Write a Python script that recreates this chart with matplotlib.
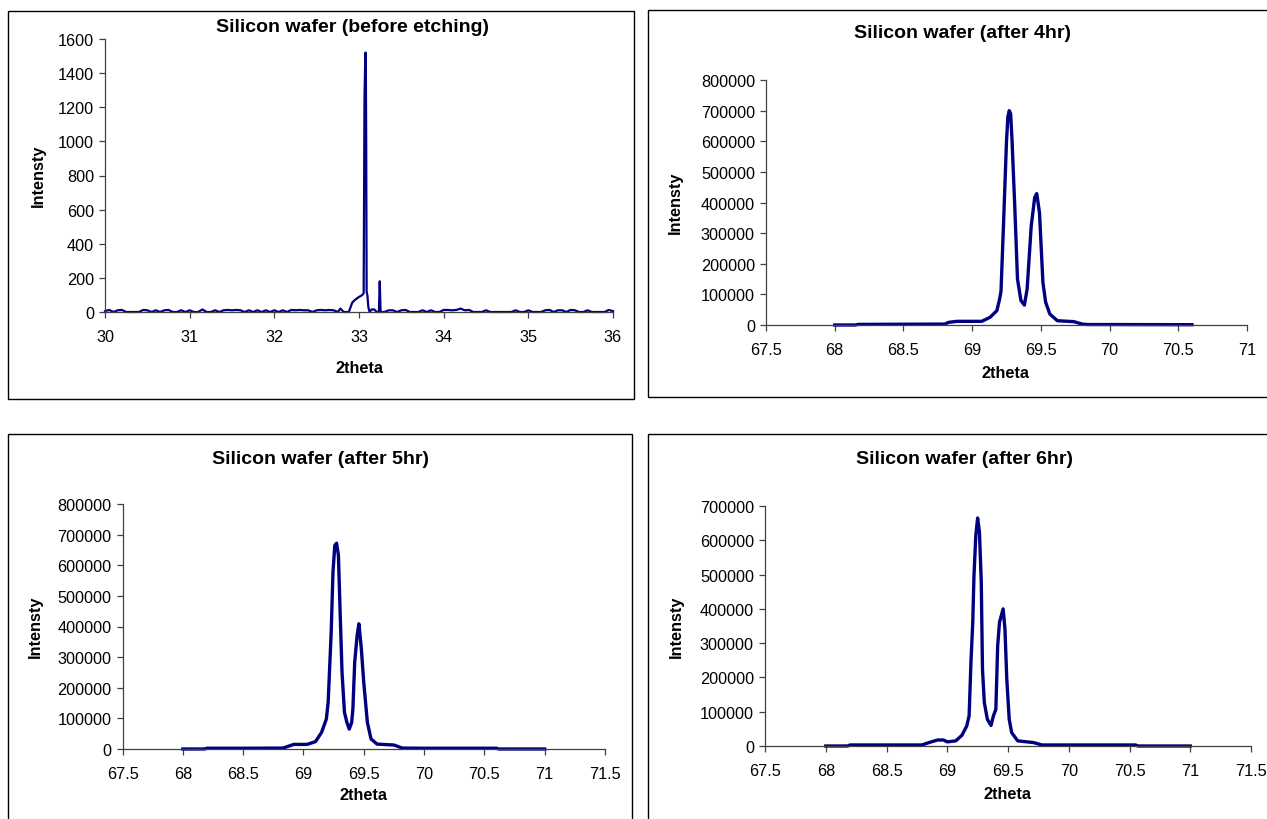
import numpy as np
import matplotlib
matplotlib.use("Agg")
import matplotlib.pyplot as plt
from matplotlib.patches import Rectangle
from matplotlib.ticker import FuncFormatter, MultipleLocator

plt.rcParams['font.family'] = ['Liberation Sans', 'DejaVu Sans']

# --- data ---
# before etching: baseline noise + peak region (2theta, counts)
before_x = [30.00, 30.05, 30.10, 30.15, 30.20, 30.25, 30.30, 30.35, 30.40, 30.45,
            30.50, 30.55, 30.60, 30.65, 30.70, 30.75, 30.80, 30.85, 30.90, 30.95,
            31.00, 31.05, 31.10, 31.15, 31.20, 31.25, 31.30, 31.35, 31.40, 31.45,
            31.50, 31.55, 31.60, 31.65, 31.70, 31.75, 31.80, 31.85, 31.90, 31.95,
            32.00, 32.05, 32.10, 32.15, 32.20, 32.25, 32.30, 32.35, 32.40, 32.45,
            32.50, 32.55, 32.60, 32.65, 32.70, 32.75, 32.78, 32.82, 32.88, 32.92,
            32.95, 32.99, 33.04, 33.055, 33.065, 33.075, 33.08, 33.085, 33.09, 33.10,
            33.11, 33.125, 33.15, 33.18, 33.21, 33.235, 33.245, 33.255, 33.30, 33.35,
            33.40, 33.45, 33.50, 33.55, 33.60, 33.65, 33.70, 33.75, 33.80, 33.85,
            33.90, 33.95, 34.00, 34.05, 34.10, 34.15, 34.20, 34.25, 34.30, 34.35,
            34.40, 34.45, 34.50, 34.55, 34.60, 34.65, 34.70, 34.75, 34.80, 34.85,
            34.90, 34.95, 35.00, 35.05, 35.10, 35.15, 35.20, 35.25, 35.30, 35.35,
            35.40, 35.45, 35.50, 35.55, 35.60, 35.65, 35.70, 35.75, 35.80, 35.85,
            35.90, 35.95, 36.00]
before_y = [5, 12, 0, 10, 12, 0, 0, 0, 0, 12,
            10, 0, 10, 0, 10, 12, 0, 0, 10, 0,
            10, 0, 0, 15, 0, 0, 10, 0, 10, 12,
            10, 12, 10, 0, 10, 0, 10, 0, 10, 0,
            10, 0, 10, 0, 12, 10, 12, 10, 10, 0,
            10, 12, 10, 12, 10, 0, 20, 0, 0, 55,
            70, 85, 100, 110, 1250, 1520, 1520, 1000, 120, 95,
            30, 0, 15, 15, 0, 0, 180, 0, 0, 10,
            10, 0, 10, 12, 0, 0, 0, 10, 0, 10,
            0, 0, 12, 12, 10, 12, 20, 10, 12, 0,
            0, 0, 10, 0, 0, 0, 0, 0, 0, 10,
            0, 0, 10, 0, 0, 0, 10, 12, 0, 10,
            10, 0, 12, 10, 0, 0, 10, 0, 0, 0,
            0, 12, 5]

hr4_x = [68.00, 68.15, 68.17, 68.50, 68.80, 68.83, 68.89, 69.00, 69.07, 69.13,
         69.18, 69.20, 69.21, 69.23, 69.25, 69.26, 69.27, 69.28, 69.29, 69.31,
         69.33, 69.355, 69.38, 69.40, 69.43, 69.455, 69.47, 69.49, 69.515, 69.535,
         69.565, 69.62, 69.74, 69.80, 69.84, 70.00, 70.60]
hr4_y = [0, 0, 2000, 2500, 3000, 8700, 12000, 12000, 12000, 25000,
         47000, 85000, 110000, 350000, 600000, 680000, 700000, 690000, 606000, 389000,
         150000, 80000, 65000, 117000, 324000, 416000, 429000, 367000, 139000, 74000,
         36000, 14000, 11000, 3000, 1500, 1500, 1000]

hr5_x = [68.00, 68.18, 68.20, 68.50, 68.83, 68.92, 69.03, 69.10, 69.15, 69.19,
         69.205, 69.23, 69.245, 69.26, 69.275, 69.29, 69.305, 69.32, 69.34, 69.36,
         69.38, 69.40, 69.41, 69.425, 69.445, 69.46, 69.48, 69.50, 69.53, 69.56,
         69.61, 69.75, 69.82, 70.00, 70.60, 70.62, 71.00]
hr5_y = [0, 0, 2500, 2500, 3000, 15000, 15000, 24000, 54000, 98000,
         153000, 381000, 578000, 665000, 672000, 632000, 436000, 250000, 120000, 87000,
         65000, 87000, 131000, 283000, 371000, 409000, 327000, 218000, 87000, 33000,
         16000, 13000, 3000, 2500, 2500, 0, 0]

hr6_x = [68.00, 68.18, 68.20, 68.50, 68.79, 68.85, 68.92, 68.97, 69.00, 69.07,
         69.12, 69.16, 69.18, 69.195, 69.21, 69.22, 69.235, 69.25, 69.265, 69.28,
         69.29, 69.305, 69.33, 69.36, 69.38, 69.40, 69.415, 69.43, 69.46, 69.475,
         69.49, 69.51, 69.53, 69.58, 69.71, 69.78, 70.00, 70.55, 70.57, 71.00]
hr6_y = [0, 0, 3000, 3000, 3000, 10000, 17500, 17500, 12000, 15000,
         31000, 58000, 88000, 244000, 361000, 497000, 614000, 665000, 624000, 478000,
         224000, 127000, 78000, 60000, 88000, 107000, 292000, 361000, 400000, 341000,
         195000, 78000, 39000, 15000, 10000, 3000, 3000, 3000, 0, 0]

titles = ["Silicon wafer (before etching)", "Silicon wafer (after 4hr)",
          "Silicon wafer (after 5hr)", "Silicon wafer (after 6hr)"]

W, H = 1267, 820
NAVY = "#000080"


def rect(x0, y0, x1, y1):
    return [x0 / W, 1 - y1 / H, (x1 - x0) / W, (y1 - y0) / H]


def fmt(v, pos):
    return "%g" % v


def style_axes(ax, xlim, xstep, ylim, ystep):
    ax.set_xlim(*xlim)
    ax.set_ylim(*ylim)
    ax.xaxis.set_major_locator(MultipleLocator(xstep))
    ax.yaxis.set_major_locator(MultipleLocator(ystep))
    ax.xaxis.set_major_formatter(FuncFormatter(fmt))
    ax.yaxis.set_major_formatter(FuncFormatter(lambda v, p: "%d" % v))
    for s in ["top", "right"]:
        ax.spines[s].set_visible(False)
    for s in ["left", "bottom"]:
        ax.spines[s].set_color("#404040")
        ax.spines[s].set_linewidth(0.9)
    ax.tick_params(direction="out", length=4, width=0.9, color="#404040",
                   labelsize=11.7)
    ax.tick_params(axis="x", pad=8)
    ax.tick_params(axis="y", pad=4)
    ax.patch.set_alpha(0)


fig = plt.figure(figsize=(W / 100, H / 100), dpi=100)

# panel frames
for x0, y0, x1, y1 in [(8, 12, 634, 400), (648, 11, 1280, 398),
                       (8, 435, 632, 830), (648, 435, 1280, 830)]:
    fig.add_artist(Rectangle((x0 / W, 1 - y1 / H), (x1 - x0) / W, (y1 - y0) / H,
                             transform=fig.transFigure, fill=False,
                             edgecolor="black", linewidth=1.0))

panels = [
    (rect(105, 40, 613, 313), before_x, before_y, (30, 36), 1, (0, 1600), 200, 1.6),
    (rect(766, 81, 1247, 326), hr4_x, hr4_y, (67.5, 71), 0.5, (0, 800000), 100000, 2.4),
    (rect(122.5, 505, 605, 750), hr5_x, hr5_y, (67.5, 71.5), 0.5, (0, 800000), 100000, 2.4),
    (rect(765, 507, 1251, 747), hr6_x, hr6_y, (67.5, 71.5), 0.5, (0, 700000), 100000, 2.4),
]
title_pos = [(352, 27), (963, 33), (321, 459), (964, 460)]
xlabel_pos = [(359, 369), (1006, 374), (363, 796), (1008, 795)]
ylabel_pos = [(38, 176), (675, 203), (35, 627), (676, 627)]

for i, (r, xs, ys, xlim, xstep, ylim, ystep, lw) in enumerate(panels):
    ax = fig.add_axes(r)
    ax.plot(xs, ys, color=NAVY, linewidth=lw, solid_joinstyle="round", clip_on=False)
    style_axes(ax, xlim, xstep, ylim, ystep)
    tx, ty = title_pos[i]
    fig.text(tx / W, 1 - ty / H, titles[i], ha="center", va="center",
             fontsize=14, fontweight="bold")
    lx, ly = xlabel_pos[i]
    fig.text(lx / W, 1 - ly / H, "2theta", ha="center", va="center",
             fontsize=11.7, fontweight="bold")
    yx, yy = ylabel_pos[i]
    fig.text(yx / W, 1 - yy / H, "Intensty", ha="center", va="center",
             rotation=90, fontsize=11.7, fontweight="bold")

fig.savefig("out.png", dpi=100)
